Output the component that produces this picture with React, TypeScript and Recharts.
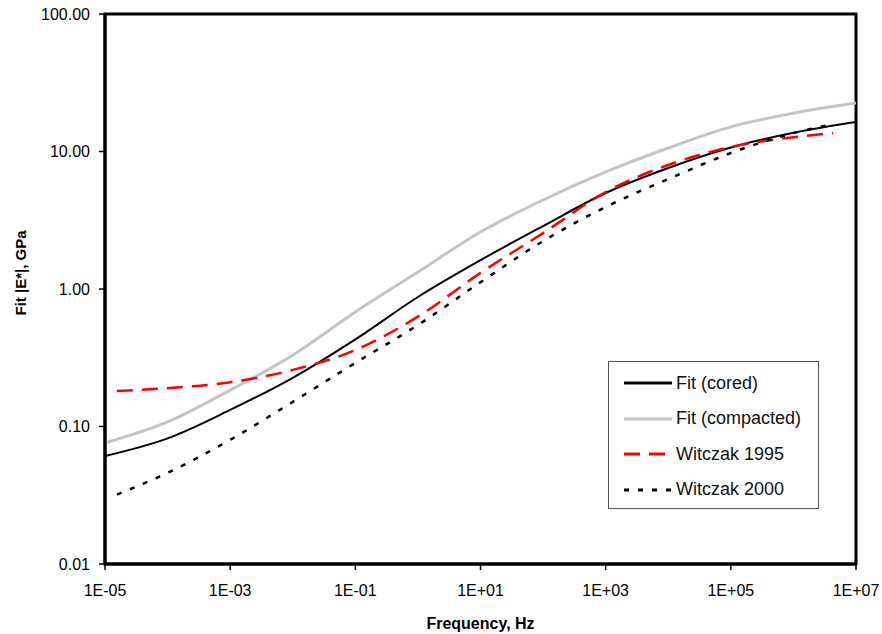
import { LineChart, Line, XAxis, YAxis, ReferenceArea, Label } from 'recharts';

// frequency grid (Hz) for the two fitted master curves
const fitFreq = [1e-5, 1e-4, 1e-3, 1e-2, 1e-1, 1e0, 1e1, 1e2, 1e3, 1e4, 1e5, 1e6, 1e7];
const fitCored = [0.061, 0.082, 0.132, 0.226, 0.43, 0.875, 1.62, 2.87, 4.99, 7.59, 10.7, 13.7, 16.4];
const fitCompacted = [0.076, 0.108, 0.184, 0.33, 0.68, 1.33, 2.6, 4.44, 7.1, 10.6, 15.1, 19.0, 22.5];

// frequency grid for the Witczak predictions
const witFreq = [1.55e-5, 1e-4, 1e-3, 1e-2, 1e-1, 1e0, 1e1, 1e2, 1e3, 1e4, 1e5, 1e6, 4.3e6];
const witczak1995 = [0.181, 0.19, 0.21, 0.258, 0.36, 0.63, 1.31, 2.55, 5.07, 7.98, 10.8, 12.7, 13.6];
const witczak2000 = [0.032, 0.046, 0.08, 0.151, 0.29, 0.547, 1.12, 2.23, 3.95, 6.3, 9.75, 13.6, 15.8];

const xTicks = [1e-5, 1e-3, 1e-1, 1e1, 1e3, 1e5, 1e7];
const yTicks = [0.01, 0.1, 1, 10, 100];

const FONT = '"Liberation Sans", Arial, sans-serif';

const SERIES = [
  { key: 'cored', label: 'Fit (cored)', color: '#000000', width: 2, dash: undefined, freq: fitFreq, values: fitCored },
  { key: 'compacted', label: 'Fit (compacted)', color: '#c4c4c4', width: 3, dash: undefined, freq: fitFreq, values: fitCompacted },
  { key: 'w1995', label: 'Witczak 1995', color: '#ff0000', width: 2.5, dash: '16 9', freq: witFreq, values: witczak1995 },
  { key: 'w2000', label: 'Witczak 2000', color: '#000000', width: 2.5, dash: '5 9', freq: witFreq, values: witczak2000 },
];

function formatFreq(v: number): string {
  const exp = Math.round(Math.log10(v));
  return `1E${exp < 0 ? '-' : '+'}${String(Math.abs(exp)).padStart(2, '0')}`;
}

function ChartLegend() {
  return (
    <div
      style={{
        position: 'absolute',
        left: 608,
        top: 361,
        width: 209,
        height: 146,
        border: '1px solid #555',
        background: '#fff',
        fontFamily: FONT,
        fontSize: 18,
      }}
    >
      {SERIES.map((s, i) => (
        <div
          key={s.key}
          style={{ position: 'absolute', left: 15, top: 10 + i * 35.5, height: 22, display: 'flex', alignItems: 'center' }}
        >
          <svg width={50} height={22}>
            <line x1={0} y1={11} x2={48} y2={11} stroke={s.color} strokeWidth={3} strokeDasharray={s.dash} />
          </svg>
          <span style={{ marginLeft: 2, color: '#111' }}>{s.label}</span>
        </div>
      ))}
    </div>
  );
}

export default function App() {
  return (
    <div style={{ position: 'absolute', left: 0, top: 0, width: 882, height: 634, background: '#fff' }}>
      <LineChart width={882} height={634} margin={{ top: 14, right: 26, bottom: 0, left: 0 }}>
        <XAxis
          dataKey="f"
          type="number"
          scale="log"
          domain={[1e-5, 1e7]}
          allowDataOverflow
          ticks={xTicks}
          tickFormatter={formatFreq}
          height={70}
          tick={{ fill: '#000', fontSize: 16, fontFamily: FONT }}
          tickSize={6}
          tickMargin={15}
          tickLine={{ stroke: '#000', strokeWidth: 1.5 }}
          axisLine={{ stroke: '#000', strokeWidth: 3 }}
        >
          <Label
            value="Frequency, Hz"
            position="insideBottom"
            offset={5}
            style={{ fontFamily: FONT, fontSize: 16, fontWeight: 'bold', fill: '#000' }}
          />
        </XAxis>
        <YAxis
          type="number"
          scale="log"
          domain={[0.01, 100]}
          allowDataOverflow
          ticks={yTicks}
          tickFormatter={(v: number) => v.toFixed(2)}
          width={105}
          tick={{ fill: '#000', fontSize: 16, fontFamily: FONT }}
          tickSize={6}
          tickMargin={9}
          tickLine={{ stroke: '#000', strokeWidth: 1.5 }}
          axisLine={{ stroke: '#000', strokeWidth: 3 }}
        >
          <Label
            content={() => (
              <text
                x={26}
                y={273}
                transform="rotate(-90 26 273)"
                textAnchor="middle"
                style={{ fontFamily: FONT, fontSize: 15, fontWeight: 'bold', fill: '#000' }}
              >
                Fit |E*|, GPa
              </text>
            )}
          />
        </YAxis>
        <ReferenceArea x1={1e-5} x2={1e7} y1={0.01} y2={100} fill="none" stroke="#000" strokeWidth={3} />
        {SERIES.map((s) => (
          <Line
            key={s.key}
            data={s.freq.map((f, i) => ({ f, v: s.values[i] }))}
            dataKey="v"
            type="monotone"
            stroke={s.color}
            strokeWidth={s.width}
            strokeDasharray={s.dash}
            dot={false}
            activeDot={false}
            isAnimationActive={false}
          />
        ))}
      </LineChart>
      <ChartLegend />
    </div>
  );
}
